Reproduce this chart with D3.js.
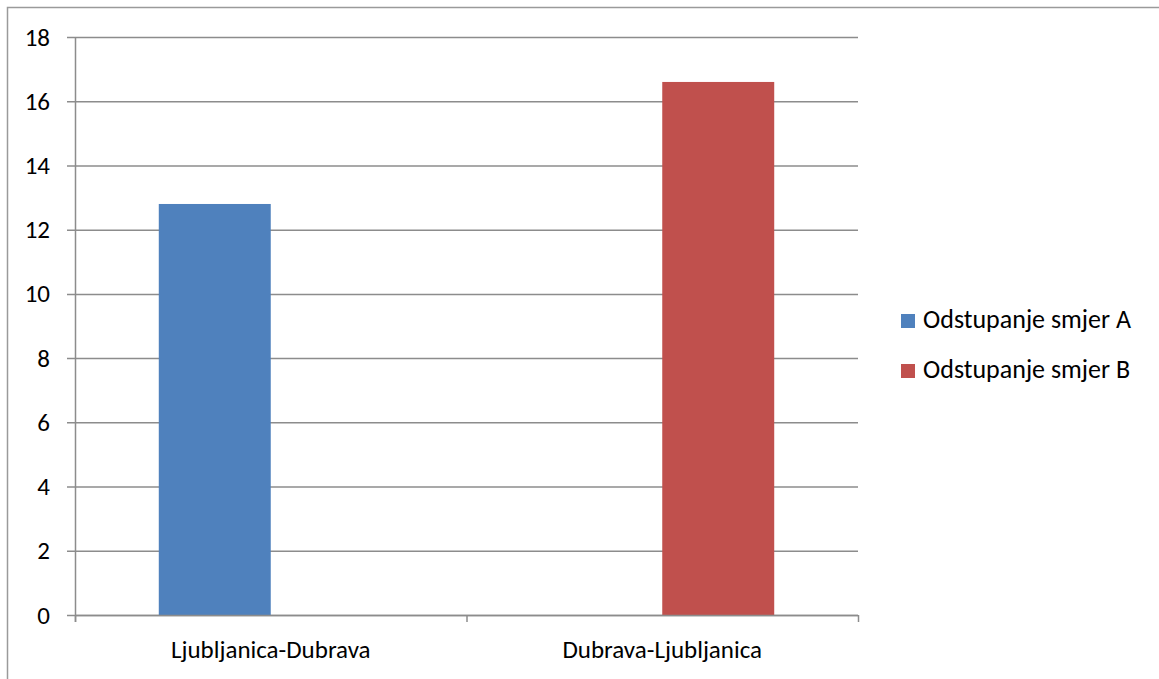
<!DOCTYPE html>
<html><head><meta charset="utf-8">
<script src="https://cdn.jsdelivr.net/npm/d3@7"></script>
<style>body{margin:0;background:#fff;} svg{display:block;font-family:Carlito,Lato,"Open Sans",sans-serif;}</style>
</head><body><svg id="c" width="1159" height="679"></svg>
<script>
const categories = ["Ljubljanica-Dubrava", "Dubrava-Ljubljanica"];
const seriesNames = ["Odstupanje smjer A", "Odstupanje smjer B"];
const seriesA = [12.8, 0];
const seriesB = [0, 16.6];
const seriesColors = ["#4f81bd", "#c0504d"];
const yTicks = [0, 2, 4, 6, 8, 10, 12, 14, 16, 18];

const svg = d3.select("#c");
const FS = 25;
// outer frame
svg.append("path").attr("d", "M7.5,700 V7.5 H1200").attr("fill", "none").attr("stroke", "#9a9a9a").attr("stroke-width", 1.5);

const m = {l: 75, t: 37, r: 858, b: 615};
const x = d3.scaleBand().domain(categories).range([m.l, m.r]).paddingInner(0).paddingOuter(0);
const y = d3.scaleLinear().domain([0, 18]).range([m.b, m.t]);

// gridlines
svg.append("g").selectAll("line").data(yTicks).join("line")
  .attr("x1", m.l - 8).attr("x2", m.r).attr("y1", d => y(d) + 0.5).attr("y2", d => y(d) + 0.5)
  .attr("stroke", "#8c8c8c").attr("stroke-width", 1.5);

const data = [seriesA, seriesB];
const bw = x.bandwidth();
const barW = bw * 0.286;
data.forEach((vals, si) => {
  svg.append("g").selectAll("rect").data(categories).join("rect")
    .attr("x", (c) => x(c) + bw / 2 + (si - 1) * barW)
    .attr("width", barW)
    .attr("y", (c, i) => y(vals[i]))
    .attr("height", (c, i) => y(0) - y(vals[i]))
    .attr("fill", seriesColors[si]);
});

// axes lines
svg.append("line").attr("x1", m.l + 0.5).attr("x2", m.l + 0.5).attr("y1", m.t).attr("y2", m.b + 7)
  .attr("stroke", "#8c8c8c").attr("stroke-width", 1.5);
svg.append("line").attr("x1", m.l).attr("x2", m.r).attr("y1", m.b + 0.5).attr("y2", m.b + 0.5)
  .attr("stroke", "#8c8c8c").attr("stroke-width", 1.5);
const bounds = [m.l, ...categories.slice(1).map(c => x(c)), m.r];
svg.append("g").selectAll("line").data(bounds).join("line")
  .attr("x1", d => d + 0.5).attr("x2", d => d + 0.5).attr("y1", m.b).attr("y2", m.b + 7)
  .attr("stroke", "#8c8c8c").attr("stroke-width", 1.5);

// y tick labels
svg.append("g").selectAll("text").data(yTicks).join("text")
  .attr("x", 50).attr("y", d => y(d) + 8.5).attr("text-anchor", "end")
  .attr("font-size", FS).attr("fill", "#000").text(d => d);

// category labels
svg.append("g").selectAll("text").data(categories).join("text")
  .attr("x", c => x(c) + bw / 2).attr("y", 658).attr("text-anchor", "middle")
  .attr("font-size", FS).attr("fill", "#000").text(c => c);

// legend
const lg = svg.append("g").selectAll("g").data(seriesNames).join("g")
  .attr("transform", (d, i) => `translate(901,${314 + i * 50})`);
lg.append("rect").attr("x", 0).attr("y", 0).attr("width", 14).attr("height", 14).attr("fill", (d, i) => seriesColors[i]);
lg.append("text").attr("x", 22).attr("y", 14).attr("font-size", 26).attr("fill", "#000").text(d => d);
</script></body></html>
